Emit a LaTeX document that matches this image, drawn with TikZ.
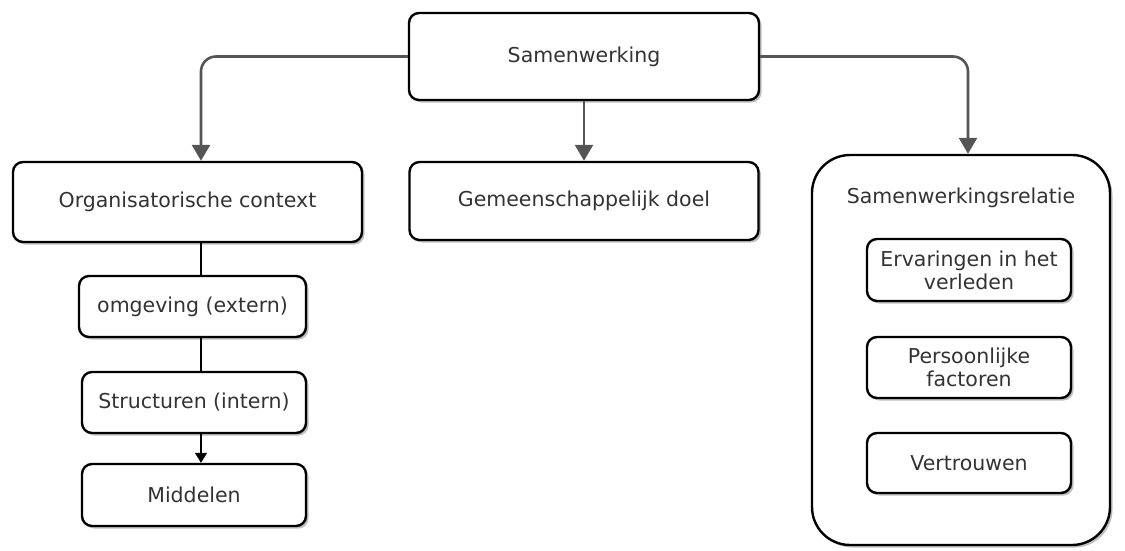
\documentclass[tikz,border=0pt]{standalone}
\usepackage{fontspec}
\setmainfont{DejaVu Sans}
\usetikzlibrary{arrows.meta,shadows}
\definecolor{txt}{HTML}{333333}
\definecolor{conn}{HTML}{555555}
\tikzset{
  box/.style={draw=black, line width=2.4pt, rounded corners=10pt, fill=white,
    drop shadow={shadow xshift=2.5pt, shadow yshift=-2.5pt, opacity=0.25, fill=black},
    text=txt, align=center, inner sep=0pt,
    font=\fontsize{20.5}{23}\selectfont},
  bigbox/.style={box, rounded corners=38pt},
  label/.style={text=txt, inner sep=0pt, font=\fontsize{20.5}{23}\selectfont},
  garrow/.style={draw=conn, line width=2.6pt, rounded corners=15pt,
    -{Triangle[width=18pt,length=16pt]}},
  thin/.style={draw=black, line width=1.3pt},
  tarrow/.style={thin, -{Triangle[width=12pt,length=10pt]}}
}
\begin{document}
\begin{tikzpicture}[x=1pt,y=-1pt]
\useasboundingbox (0,0) rectangle (1125,550);
% top
\node[box, minimum width=350pt, minimum height=87pt] (sam) at (584,56.5) {Samenwerking};
% second row
\node[box, minimum width=349pt, minimum height=80pt] (org) at (187.5,202) {Organisatorische context};
\node[box, minimum width=349pt, minimum height=78pt] (doel) at (584,201) {Gemeenschappelijk doel};
\node[bigbox, minimum width=298pt, minimum height=390pt] (rel) at (961,350) {};
\node[label] (reltitle) at (961,198) {Samenwerkingsrelatie};
% right inner boxes
\node[box, minimum width=204pt, minimum height=62pt] (erv) at (969,270) {Ervaringen in het\\verleden};
\node[box, minimum width=204pt, minimum height=61pt] (pers) at (969,367.5) {Persoonlijke\\factoren};
\node[box, minimum width=204pt, minimum height=60pt] (vert) at (969,463) {Vertrouwen};
% left column
\node[box, minimum width=227pt, minimum height=61pt] (omg) at (192.5,306.5) {omgeving (extern)};
\node[box, minimum width=224pt, minimum height=61pt] (str) at (194,402.5) {Structuren (intern)};
\node[box, minimum width=224pt, minimum height=62pt] (mid) at (194,495) {Middelen};
\coordinate (lx) at (201,0);
% connectors
\draw[garrow] (sam.west) -| (org.north -| lx);
\draw[garrow] (sam.south) -- (doel.north);
\draw[garrow] (sam.east) -| ([xshift=7pt]rel.north);
\draw[thin] (org.south -| lx) -- (omg.north -| lx);
\draw[thin] (omg.south -| lx) -- (str.north -| lx);
\draw[tarrow] (str.south -| lx) -- (mid.north -| lx);
\end{tikzpicture}
\end{document}
